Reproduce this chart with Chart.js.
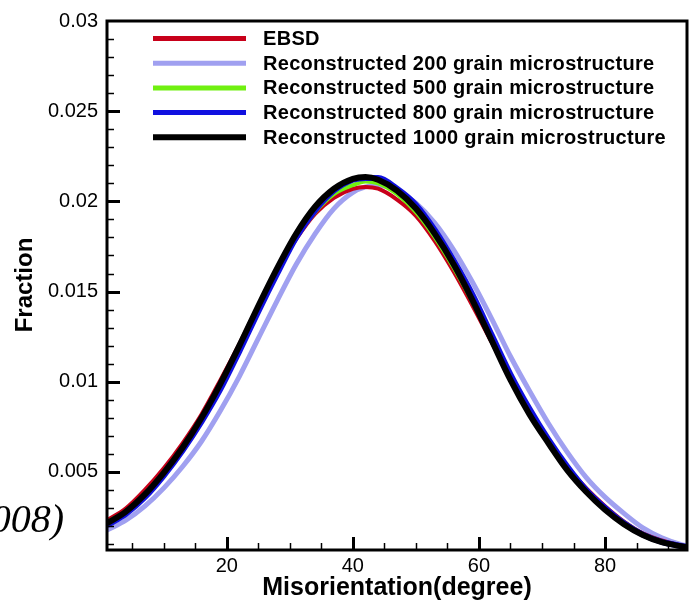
<!DOCTYPE html>
<html>
<head>
<title>Misorientation distribution</title>
<script src="https://cdn.jsdelivr.net/npm/chart.js"></script>
<style>
  html, body { margin: 0; padding: 0; background: #fff; }
  #wrap { width: 692px; height: 605px; position: relative; }
</style>
</head>
<body>
<div id="wrap"><canvas id="mdfChart"></canvas></div>
<script>
// misorientation angle, degree
const angles = [1, 4, 7, 10, 13, 16, 19, 22, 25, 28, 31, 34, 37, 40, 42, 44, 47,
                50, 53, 56, 59, 62, 65, 68, 71, 74, 77, 80, 83, 86, 89, 92, 93];

// fraction per angle
const ebsd = [0.00232, 0.00298, 0.0040, 0.0052, 0.0066, 0.0082, 0.0101, 0.0121, 0.0142, 0.0162, 0.0179,
              0.0193, 0.0202, 0.0207, 0.0208, 0.0207, 0.0201, 0.0192, 0.0178, 0.0161, 0.0142, 0.0122,
              0.0102, 0.0084, 0.0068, 0.0053, 0.0041, 0.0031, 0.00225, 0.0016, 0.0012, 0.00092, 0.00086];
const recon200 = [0.00177, 0.00232, 0.0031, 0.0041, 0.0053, 0.0067, 0.0084, 0.0103, 0.0124, 0.0145, 0.0165,
                  0.0182, 0.0196, 0.0205, 0.0208, 0.0209, 0.0206, 0.0199, 0.0188, 0.0173, 0.0155, 0.0135,
                  0.0114, 0.0095, 0.0077, 0.0061, 0.0047, 0.0036, 0.0027, 0.0019, 0.00135, 0.00098, 0.0009];
const recon500 = [0.0022, 0.00283, 0.0038, 0.0050, 0.0064, 0.0080, 0.0099, 0.0119, 0.0141, 0.0161, 0.0180,
                  0.0194, 0.0204, 0.0209, 0.0211, 0.0210, 0.0204, 0.0194, 0.0180, 0.0163, 0.0144, 0.0123,
                  0.0102, 0.0083, 0.0067, 0.0052, 0.0040, 0.0030, 0.0022, 0.00155, 0.00115, 0.0009, 0.00084];
const recon800 = [0.00205, 0.00268, 0.0036, 0.0048, 0.0062, 0.0078, 0.0096, 0.0117, 0.0139, 0.0160, 0.0180,
                  0.0195, 0.0206, 0.0212, 0.0213, 0.0213, 0.0207, 0.0198, 0.0184, 0.0167, 0.0148, 0.0126,
                  0.0104, 0.0085, 0.0068, 0.0053, 0.0040, 0.0030, 0.00215, 0.00152, 0.00112, 0.0009, 0.00083];
const recon1000 = [0.00215, 0.0028, 0.00375, 0.00495, 0.00635, 0.0080, 0.0099, 0.0120, 0.0142, 0.0163, 0.0182,
                   0.0197, 0.0207, 0.02125, 0.02135, 0.0212, 0.0206, 0.0196, 0.0182, 0.0165, 0.0145, 0.0123,
                   0.0101, 0.0082, 0.0066, 0.0051, 0.0039, 0.0029, 0.0021, 0.0015, 0.0011, 0.00088, 0.00082];

const seriesNames = ['EBSD',
  'Reconstructed 200 grain microstructure',
  'Reconstructed 500 grain microstructure',
  'Reconstructed 800 grain microstructure',
  'Reconstructed 1000 grain microstructure'];

const xTicks = [20, 40, 60, 80];
const yTicks = [0.005, 0.01, 0.015, 0.02, 0.025, 0.03];

const FONT = "'Liberation Sans', Arial, Helvetica, sans-serif";

function pts(arr) {
    return angles.map((a, i) => ({ x: a, y: arr[i] }));
}

function line(label, data, color, width, order) {
    return {
        label: label,
        data: pts(data),
        borderColor: color,
        backgroundColor: color,
        borderWidth: width,
        pointRadius: 0,
        cubicInterpolationMode: 'monotone',
        order: order
    };
}

// frame, inward tick marks, legend and axis titles
const decorations = {
    id: 'decorations',
    afterDraw(chart) {
        const ctx = chart.ctx;
        const a = chart.chartArea;
        const xs = chart.scales.x;
        const ys = chart.scales.y;
        ctx.save();
        ctx.strokeStyle = '#000';

        // minor / major ticks pointing into the plot
        for (let v = 5; v < 93; v += 5) {
            const px = Math.round(xs.getPixelForValue(v)) + 0.5;
            const major = v % 20 === 0;
            ctx.lineWidth = major ? 3 : 1.5;
            ctx.beginPath();
            ctx.moveTo(px, a.bottom);
            ctx.lineTo(px, a.bottom - (major ? 13 : 7));
            ctx.stroke();
        }
        for (let k = 1; k < 30; k++) {
            const py = Math.round(ys.getPixelForValue(k / 1000)) + 0.5;
            const major = k % 5 === 0;
            ctx.lineWidth = major ? 3 : 1.5;
            ctx.beginPath();
            ctx.moveTo(a.left, py);
            ctx.lineTo(a.left + (major ? 13 : 7), py);
            ctx.stroke();
        }

        // plot frame
        ctx.lineWidth = 3;
        ctx.strokeRect(a.left, a.top, a.right - a.left, a.bottom - a.top);

        // legend
        ctx.font = 'bold 20px ' + FONT;
        ctx.letterSpacing = '0.3px';
        ctx.fillStyle = '#000';
        ctx.textBaseline = 'middle';
        ctx.textAlign = 'left';
        chart.data.datasets.forEach((ds, i) => {
            const y = 38.5 + i * 24.7;
            ctx.strokeStyle = ds.borderColor;
            ctx.lineWidth = i === 4 ? 6 : 5;
            ctx.beginPath();
            ctx.moveTo(153, y);
            ctx.lineTo(246, y);
            ctx.stroke();
            ctx.fillText(ds.label, 263, y + 1);
        });
        ctx.letterSpacing = '0px';

        // axis titles
        ctx.textBaseline = 'alphabetic';
        ctx.textAlign = 'center';
        ctx.font = 'bold 25px ' + FONT;
        ctx.fillText('Misorientation(degree)', 397, 595);
        ctx.save();
        ctx.translate(32, 285);
        ctx.rotate(-Math.PI / 2);
        ctx.font = 'bold 24px ' + FONT;
        ctx.fillText('Fraction', 0, 0);
        ctx.restore();

        // citation fragment at the left margin
        ctx.textAlign = 'right';
        ctx.font = "italic 40px 'Liberation Serif', 'Times New Roman', serif";
        ctx.fillText('(2008)', 64, 532);
        ctx.restore();
    }
};

new Chart(document.getElementById('mdfChart'), {
    type: 'line',
    data: {
        datasets: [
            line(seriesNames[0], ebsd, '#c8001a', 4, 3),
            line(seriesNames[1], recon200, '#a0a0f0', 5, 4),
            line(seriesNames[2], recon500, '#70f010', 4, 2),
            line(seriesNames[3], recon800, '#1010e0', 6, 1),
            line(seriesNames[4], recon1000, '#000000', 6, 0)
        ]
    },
    options: {
        responsive: true,
        maintainAspectRatio: false,
        animation: false,
        layout: { padding: { top: 18, right: 5, left: 0, bottom: 0 } },
        plugins: {
            legend: { display: false },
            tooltip: { enabled: false }
        },
        scales: {
            x: {
                type: 'linear',
                min: 1,
                max: 93,
                grid: { display: false, drawTicks: false },
                border: { display: false },
                afterBuildTicks: s => { s.ticks = xTicks.map(v => ({ value: v })); },
                afterFit: s => { s.height = 55; },
                ticks: {
                    autoSkip: false,
                    maxRotation: 0,
                    padding: 4,
                    color: '#000',
                    font: { family: FONT, size: 20 }
                }
            },
            y: {
                min: 0.00067,
                max: 0.03,
                grid: { display: false, drawTicks: false },
                border: { display: false },
                afterBuildTicks: s => { s.ticks = yTicks.map(v => ({ value: v })); },
                afterFit: s => { s.width = 107; },
                ticks: {
                    autoSkip: false,
                    padding: 9,
                    color: '#000',
                    font: { family: FONT, size: 20 },
                    callback: v => String(+v.toFixed(3))
                }
            }
        }
    },
    plugins: [decorations]
});
</script>
</body>
</html>
